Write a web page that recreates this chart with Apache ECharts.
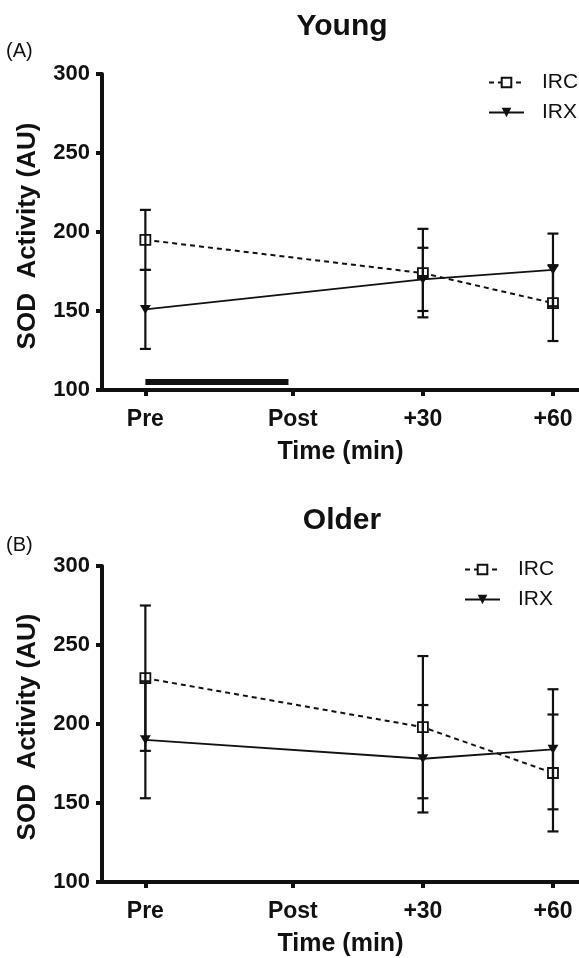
<!DOCTYPE html>
<html>
<head>
<meta charset="utf-8">
<script src="https://cdn.jsdelivr.net/npm/echarts@6/dist/echarts.min.js"></script>
<style>
html,body{margin:0;padding:0;background:#fff;}
#chart{width:579px;height:958px;}
</style>
</head>
<body>
<div id="chart"></div>
<script>
// ---- data ----
const categories = ['Pre', 'Post', '+30', '+60'];
const timeValues = [-34, 0, 30, 60];           // minutes (Pre is before exercise)
const yTicks = [100, 150, 200, 250, 300];

const youngIRC    = [195, null, 174, 155];
const youngIRCErr = [19,  null, 28,  24];
const youngIRX    = [151, null, 170, 176];
const youngIRXErr = [25,  null, 20,  23];

const olderIRC    = [229, null, 198, 169];
const olderIRCErr = [46,  null, 45,  37];
const olderIRX    = [190, null, 178, 184];
const olderIRXErr = [37,  null, 34,  38];

const exerciseStart = -34, exerciseEnd = -1, exerciseLevel = 105;

// ---- helpers ----
const FONT = "'Liberation Sans', Arial, Helvetica, sans-serif";
const INK = '#111';

function pts(vals) {
  const out = [];
  vals.forEach((v, i) => { if (v != null) out.push([timeValues[i], v]); });
  return out;
}
function errPts(vals, errs) {
  const out = [];
  vals.forEach((v, i) => { if (v != null) out.push([timeValues[i], v - errs[i], v + errs[i]]); });
  return out;
}
function errRender(params, api) {
  const x = api.value(0), lo = api.value(1), hi = api.value(2);
  const a = api.coord([x, lo]), b = api.coord([x, hi]);
  const hw = 5.5;
  const st = { stroke: INK, lineWidth: 2.2 };
  return {
    type: 'group',
    children: [
      { type: 'line', shape: { x1: a[0], y1: a[1], x2: b[0], y2: b[1] }, style: st },
      { type: 'line', shape: { x1: a[0] - hw, y1: a[1], x2: a[0] + hw, y2: a[1] }, style: st },
      { type: 'line', shape: { x1: b[0] - hw, y1: b[1], x2: b[0] + hw, y2: b[1] }, style: st }
    ]
  };
}

function xAxisCfg(gi) {
  return {
    type: 'value', gridIndex: gi, min: -44, max: 66,
    name: 'Time (min)', nameLocation: 'middle', nameGap: 50,
    nameTextStyle: { fontFamily: FONT, fontWeight: 'bold', fontSize: 25, color: INK },
    axisLine: { show: true, onZero: false, lineStyle: { color: INK, width: 4 } },
    axisTick: { show: true, customValues: timeValues, length: 6, lineStyle: { color: INK, width: 4 } },
    axisLabel: {
      show: true, customValues: timeValues, margin: 18,
      formatter: v => categories[timeValues.indexOf(v)] ?? '',
      fontFamily: FONT, fontWeight: 'bold', fontSize: 23, color: INK
    },
    splitLine: { show: false }
  };
}
function yAxisCfg(gi) {
  return {
    type: 'value', gridIndex: gi, min: yTicks[0], max: yTicks[yTicks.length - 1], interval: 50,
    axisLine: { show: true, onZero: false, lineStyle: { color: INK, width: 4 } },
    axisTick: { show: true, length: 6, lineStyle: { color: INK, width: 4 } },
    axisLabel: { margin: 12, fontFamily: FONT, fontWeight: 'bold', fontSize: 22, color: INK },
    splitLine: { show: false }
  };
}
function lineSeries(name, vals, gi, dashed) {
  return {
    name: name, type: 'line', xAxisIndex: gi, yAxisIndex: gi,
    data: pts(vals), z: 2,
    symbol: dashed ? 'rect' : 'triangle',
    symbolRotate: dashed ? 0 : 180,
    symbolSize: dashed ? 10 : [11, 9],
    showAllSymbol: true,
    lineStyle: { color: INK, width: dashed ? 2 : 1.8, type: dashed ? [5, 4] : 'solid' },
    itemStyle: dashed ? { color: '#fff', borderColor: INK, borderWidth: 1.8 } : { color: INK, borderWidth: 0 },
    emphasis: { disabled: true },
    animation: false
  };
}
function errSeries(name, vals, errs, gi) {
  return {
    name: name, type: 'custom', xAxisIndex: gi, yAxisIndex: gi,
    data: errPts(vals, errs), renderItem: errRender,
    encode: { x: 0, y: [1, 2] }, z: 4, silent: true, animation: false
  };
}
function legendCfg(left, top) {
  return {
    data: ['IRC', 'IRX'], orient: 'vertical', left: left, top: top,
    padding: 0, itemGap: 9, itemWidth: 35, itemHeight: 12,
    selectedMode: false,
    textStyle: { fontFamily: FONT, fontSize: 21, color: INK, padding: [0, 0, 0, 13] }
  };
}

const chart = echarts.init(document.getElementById('chart'), null, { renderer: 'canvas' });
chart.setOption({
  backgroundColor: '#fff',
  animation: false,
  grid: [
    { left: 102, top: 74, width: 477, height: 316 },
    { left: 102, top: 566, width: 477, height: 316 }
  ],
  xAxis: [xAxisCfg(0), xAxisCfg(1)],
  yAxis: [yAxisCfg(0), yAxisCfg(1)],
  legend: [legendCfg(488, 72), legendCfg(464, 559)],
  graphic: [
    { type: 'text', x: 342, y: 27, style: { text: 'Young', font: "bold 30px " + FONT, fill: INK, textAlign: 'center', textVerticalAlign: 'middle' } },
    { type: 'text', x: 342, y: 521, style: { text: 'Older', font: "bold 30px " + FONT, fill: INK, textAlign: 'center', textVerticalAlign: 'middle' } },
    { type: 'text', x: 6, y: 51, style: { text: '(A)', font: "20px " + FONT, fill: INK, textAlign: 'left', textVerticalAlign: 'middle' } },
    { type: 'text', x: 6, y: 545, style: { text: '(B)', font: "20px " + FONT, fill: INK, textAlign: 'left', textVerticalAlign: 'middle' } },
    { type: 'text', x: 28, y: 236, rotation: Math.PI / 2, style: { text: 'SOD  Activity (AU)', font: "bold 26px " + FONT, fill: INK, textAlign: 'center', textVerticalAlign: 'middle' } },
    { type: 'text', x: 28, y: 727, rotation: Math.PI / 2, style: { text: 'SOD  Activity (AU)', font: "bold 26px " + FONT, fill: INK, textAlign: 'center', textVerticalAlign: 'middle' } }
  ],
  series: [
    lineSeries('IRC', youngIRC, 0, true),
    lineSeries('IRX', youngIRX, 0, false),
    errSeries('IRC err young', youngIRC, youngIRCErr, 0),
    errSeries('IRX err young', youngIRX, youngIRXErr, 0),
    {
      name: 'Exercise', type: 'line', xAxisIndex: 0, yAxisIndex: 0,
      data: [[exerciseStart, exerciseLevel], [exerciseEnd, exerciseLevel]],
      symbol: 'none', lineStyle: { color: INK, width: 6, cap: 'butt' }, silent: true, z: 1
    },
    lineSeries('IRC', olderIRC, 1, true),
    lineSeries('IRX', olderIRX, 1, false),
    errSeries('IRC err older', olderIRC, olderIRCErr, 1),
    errSeries('IRX err older', olderIRX, olderIRXErr, 1)
  ]
});
</script>
</body>
</html>
